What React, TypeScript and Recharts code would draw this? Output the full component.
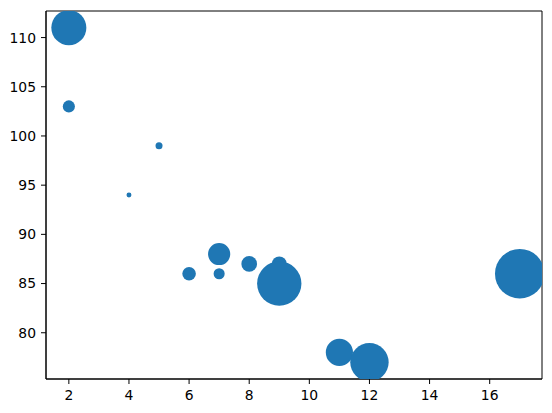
import React from "react";
import { ScatterChart, Scatter, XAxis, YAxis, ZAxis, ReferenceArea } from "recharts";

const xValues = [5, 7, 8, 7, 2, 17, 2, 9, 4, 11, 12, 9, 6];
const yValues = [99, 86, 87, 88, 111, 86, 103, 87, 94, 78, 77, 85, 86];
const sizes = [20, 50, 100, 200, 500, 1000, 60, 90, 10, 300, 600, 800, 75];
const xTicks = [2, 4, 6, 8, 10, 12, 14, 16];
const yTicks = [80, 85, 90, 95, 100, 105, 110];

const xDomain = [1.24, 17.74];
const yDomain = [75.3, 112.7];

const data = xValues.map((x, i) => ({ x, y: yValues[i], s: sizes[i] }));

const tickStyle = { fill: "#000", fontSize: 13.9, fontFamily: "DejaVu Sans" };

export default function App() {
  return (
    <div style={{ margin: -8, width: 552, height: 413, background: "#fff" }}>
      <ScatterChart
        width={552}
        height={413}
        margin={{ top: 11, right: 10, left: 0, bottom: 0 }}
      >
        <XAxis
          type="number"
          dataKey="x"
          domain={xDomain}
          ticks={xTicks}
          allowDataOverflow
          height={34}
          tick={tickStyle}
          tickSize={5}
          tickMargin={6}
          axisLine={{ stroke: "#000" }}
          tickLine={{ stroke: "#000" }}
        />
        <YAxis
          type="number"
          dataKey="y"
          domain={yDomain}
          ticks={yTicks}
          allowDataOverflow
          width={46}
          tick={tickStyle}
          tickSize={5}
          tickMargin={5}
          axisLine={{ stroke: "#000" }}
          tickLine={{ stroke: "#000" }}
        />
        <ZAxis type="number" dataKey="s" domain={[0, 1000]} range={[0, 1929]} />
        <Scatter
          data={data}
          fill="#1f77b4"
          shape="circle"
          isAnimationActive={false}
        />
        <ReferenceArea
          x1={xDomain[0]}
          x2={xDomain[1]}
          y1={yDomain[0]}
          y2={yDomain[1]}
          fill="none"
          fillOpacity={0}
          stroke="#000"
          strokeOpacity={1}
          ifOverflow="visible"
        />
      </ScatterChart>
    </div>
  );
}
